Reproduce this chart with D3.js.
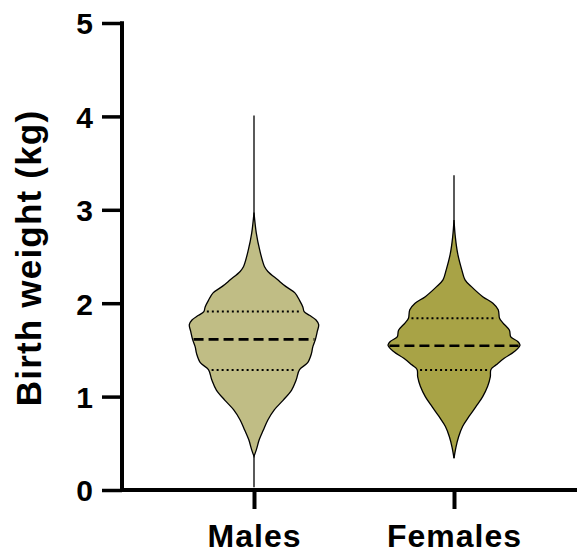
<!DOCTYPE html>
<html>
<head>
<meta charset="utf-8">
<script src="https://cdn.jsdelivr.net/npm/d3@7"></script>
<style>
  body { margin: 0; background: #fff; }
  text { font-family: "Liberation Sans", Arial, sans-serif; font-weight: bold; fill: #000; }
</style>
</head>
<body>
<div id="chart"></div>
<script>
// Categories and y ticks
var groups = ["Males", "Females"],
  yTicks = [0, 1, 2, 3, 4, 5];

// Density outline (kg, relative density 0-1)
var maleWeight = [0.36, 0.43, 0.54, 0.64, 0.75, 0.86, 0.96, 1.07, 1.18, 1.29, 1.36, 1.46, 1.53, 1.61, 1.70,
    1.77, 1.82, 1.87, 1.91, 1.96, 2.03, 2.11, 2.18, 2.25, 2.34, 2.39, 2.57, 2.75, 2.97],
  maleDensity = [0, 0.035, 0.08, 0.14, 0.21, 0.31, 0.44, 0.57, 0.64, 0.69, 0.81, 0.87, 0.89, 0.93, 0.96,
    0.98, 0.94, 0.84, 0.76, 0.74, 0.69, 0.62, 0.48, 0.36, 0.21, 0.16, 0.086, 0.035, 0];

var femaleWeight = [0.34, 0.46, 0.57, 0.68, 0.79, 0.89, 1.00, 1.11, 1.21, 1.29, 1.34, 1.41, 1.48, 1.55,
    1.59, 1.64, 1.71, 1.79, 1.84, 1.93, 2.00, 2.07, 2.18, 2.25, 2.36, 2.53, 2.71, 2.89],
  femaleDensity = [0, 0.03, 0.07, 0.13, 0.23, 0.33, 0.435, 0.51, 0.55, 0.56, 0.64, 0.76, 0.91, 1.0,
    0.965, 0.86, 0.84, 0.74, 0.69, 0.67, 0.59, 0.435, 0.26, 0.167, 0.117, 0.056, 0.02, 0];

// min, max, quartiles
var minWeight = [0.03, 0.34],
  maxWeight = [4.01, 3.37],
  q1 = [1.285, 1.285],
  medians = [1.613, 1.545],
  q3 = [1.91, 1.84];

var fills = ["#c0bd85", "#a8a346"];

var width = 577, height = 554;

var svg = d3.select("#chart").append("svg")
  .attr("width", width)
  .attr("height", height);

// Scales
var y = d3.scaleLinear().domain([0, 5]).range([490, 23]);
var x = d3.scalePoint().domain(groups).range([154, 554]).padding(0.5);
var w = d3.scaleLinear().domain([0, 1]).range([0, 66]);

var series = [
  {weight: maleWeight, density: maleDensity},
  {weight: femaleWeight, density: femaleDensity}
];

function densityAt(s, v) {
  var i = d3.bisectLeft(s.weight, v);
  if (i <= 0) return s.density[0];
  if (i >= s.weight.length) return s.density[s.weight.length - 1];
  var t = (v - s.weight[i - 1]) / (s.weight[i] - s.weight[i - 1]);
  return s.density[i - 1] + t * (s.density[i] - s.density[i - 1]);
}

groups.forEach(function(g, gi) {
  var cx = x(g), s = series[gi];
  var pts = s.weight.map(function(d, i) { return [d, s.density[i]]; });

  // thin line from min to max
  svg.append("line")
    .attr("x1", cx).attr("x2", cx)
    .attr("y1", y(minWeight[gi])).attr("y2", y(maxWeight[gi]))
    .attr("stroke", "#000")
    .attr("stroke-width", 1.3);

  var area = d3.area()
    .y(function(d) { return y(d[0]); })
    .x0(function(d) { return cx - w(d[1]); })
    .x1(function(d) { return cx + w(d[1]); })
    .curve(d3.curveCatmullRom.alpha(0.5));

  svg.append("path")
    .datum(pts)
    .attr("d", area)
    .attr("fill", fills[gi])
    .attr("stroke", "#000")
    .attr("stroke-width", 1.3);

  // quartiles dotted, median dashed
  [q1[gi], q3[gi]].forEach(function(q) {
    var hw = w(densityAt(s, q)) - 3;
    svg.append("line")
      .attr("x1", cx - hw).attr("x2", cx + hw)
      .attr("y1", y(q)).attr("y2", y(q))
      .attr("stroke", "#000")
      .attr("stroke-width", 2)
      .attr("stroke-dasharray", "2,3");
  });

  var mw = w(densityAt(s, medians[gi])) - 1;
  svg.append("line")
    .attr("x1", cx - mw).attr("x2", cx + mw)
    .attr("y1", y(medians[gi])).attr("y2", y(medians[gi]))
    .attr("stroke", "#000")
    .attr("stroke-width", 2.6)
    .attr("stroke-dasharray", "10,5");
});

// Y axis
var yAxis = svg.append("g")
  .attr("transform", "translate(122,0)")
  .call(d3.axisLeft(y).tickValues(yTicks).tickSize(20).tickPadding(9).tickFormat(d3.format("d")));
yAxis.select(".domain").remove();
yAxis.selectAll(".tick line").attr("stroke", "#000").attr("stroke-width", 3.5);
yAxis.selectAll(".tick text").style("font-size", "30px").attr("dy", "0.36em");
yAxis.append("line")
  .attr("x1", 0).attr("x2", 0)
  .attr("y1", y(5) - 1.75).attr("y2", y(0) + 1.75)
  .attr("stroke", "#000").attr("stroke-width", 4);

// X axis
var xAxis = svg.append("g")
  .attr("transform", "translate(0," + y(0) + ")")
  .call(d3.axisBottom(x).tickSize(19).tickPadding(15));
xAxis.select(".domain").remove();
xAxis.selectAll(".tick line").attr("stroke", "#000").attr("stroke-width", 4);
xAxis.selectAll(".tick text").style("font-size", "32px").style("letter-spacing", "1px");
xAxis.append("line")
  .attr("x1", 120).attr("x2", width)
  .attr("y1", 0).attr("y2", 0)
  .attr("stroke", "#000").attr("stroke-width", 4);

// Y title
svg.append("text")
  .attr("transform", "translate(41,258)rotate(-90)")
  .attr("text-anchor", "middle")
  .style("font-size", "35px")
  .style("letter-spacing", "1.2px")
  .text("Birth weight (kg)");
</script>
</body>
</html>
